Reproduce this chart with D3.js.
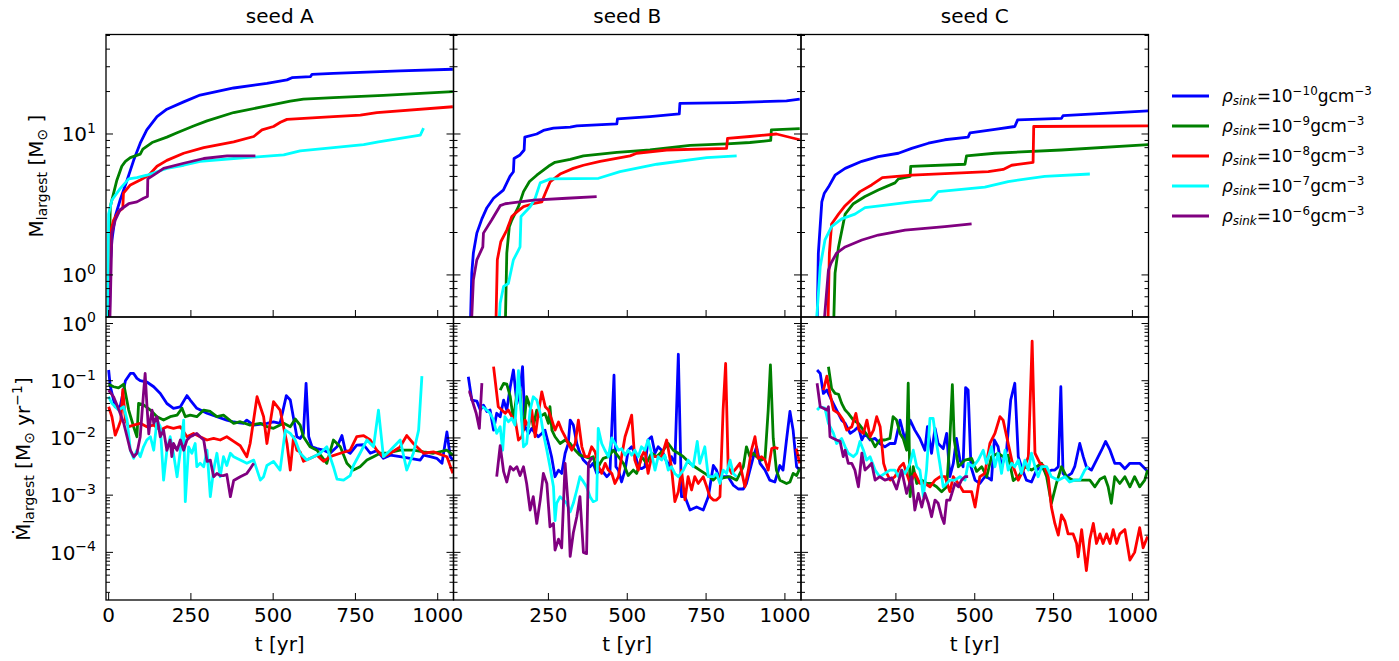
<!DOCTYPE html>
<html><head><meta charset="utf-8">
<script src="https://cdn.jsdelivr.net/npm/d3@7"></script>
<style>body{margin:0;background:#fff}svg{display:block}text{font-family:"DejaVu Sans",sans-serif;fill:#000}</style>
</head><body><svg id="c" width="1399" height="661"></svg>
<script>
// ---------- DATA ----------
const seeds = ["seed A","seed B","seed C"];
const densityExp = ["−10","−9","−8","−7","−6"];
const colors = ["#0000ff","#008000","#ff0000","#00ffff","#800080"];
const xTicksFirst = [0,250,500,750,1000];
const xTicksOther = [250,500,750,1000];

// Largest sink mass [Msun] vs t [yr]
const mA10=[[2,0.4],[5,1.2],[10,1.77],[20,2.6],[35,3.4],[56,4.7],[76,6.5],[96,8.6],[116,10.7],[147,13.3],[177,15.0],[228,16.9],[278,18.9],[380,21.2],[481,22.9],[542,24.2],[557,25.1],[613,25.5],[618,26.5],[683,26.9],[886,28],[1046,28.8]];
const mA9=[[0,0.4],[2,1.3],[5,3.05],[25,4.7],[40,5.9],[51,6.4],[66,6.8],[96,7.2],[104,7.8],[132,8.7],[177,9.5],[208,10.2],[258,11.4],[299,12.4],[380,14.2],[481,15.8],[552,17.1],[592,17.7],[683,18.1],[835,18.8],[1046,20]];
const mA8=[[0,0.4],[2,1.0],[5,1.98],[15,2.45],[30,2.81],[43,2.97],[45,3.8],[66,4.35],[96,4.72],[122,5.1],[147,5.9],[177,6.5],[228,7.3],[289,8.0],[380,8.8],[441,9.6],[466,10.7],[501,11.3],[522,12.1],[542,12.7],[683,13.3],[765,13.6],[815,14.2],[1046,15.6]];
const mA7=[[-3,0.4],[-1,1.5],[0,2.7],[10,3.4],[35,4.1],[61,4.8],[86,4.9],[116,5.1],[147,5.4],[177,5.7],[228,6.0],[278,6.4],[380,6.7],[532,7.1],[582,7.6],[683,8.0],[775,8.4],[820,8.8],[886,9.3],[947,9.8],[957,11.0]];
const mA6=[[3,0.4],[10,1.98],[20,2.45],[35,2.9],[61,3.2],[86,3.3],[106,3.5],[118,3.6],[119,4.8],[147,5.3],[167,5.7],[228,6.2],[289,6.7],[360,7.0],[446,7.0]];

const mB10=[[2,0.4],[7,1.03],[12,1.43],[23,1.98],[39,2.5],[55,3.0],[76,3.5],[107,4.0],[128,5.0],[139,5.4],[141,6.7],[160,7.1],[173,7.7],[175,9.5],[213,10],[234,10.6],[266,11],[319,11.2],[340,11.4],[467,11.8],[469,12.8],[572,13.3],[665,13.9],[667,16.5],[836,16.7],[1005,17.2],[1047,17.7]];
const mB9=[[113,0.4],[118,1.43],[126,2.2],[134,2.45],[155,3.05],[171,3.9],[190,4.6],[213,5.1],[250,5.9],[271,6.3],[319,6.6],[361,7.0],[467,7.4],[572,7.7],[699,8.3],[815,8.5],[889,8.7],[955,9.0],[957,10.7],[1047,10.9]];
const mB8=[[83,0.4],[88,1.28],[99,1.72],[118,2.08],[134,2.6],[150,2.8],[171,3.05],[201,3.2],[229,3.3],[240,3.8],[256,4.6],[287,5.2],[329,5.7],[361,6.0],[414,6.4],[509,7.0],[530,7.3],[625,7.7],[815,7.9],[818,9.3],[889,9.6],[973,10],[1047,9.1]];
const mB7=[[92,0.4],[97,0.63],[108,0.83],[123,0.87],[139,1.28],[155,1.5],[160,1.58],[163,2.6],[192,3.05],[208,3.5],[224,4.5],[256,4.8],[409,4.85],[477,5.4],[594,6.1],[752,6.8],[847,7.0]];
const mB6=[[5,0.4],[12,0.92],[23,1.28],[42,1.58],[44,1.98],[70,2.45],[97,3.1],[113,3.2],[203,3.4],[308,3.5],[403,3.6]];

const mC10=[[0,0.4],[4,1.43],[15,3.3],[23,3.8],[36,4.2],[57,5.1],[89,5.7],[142,6.4],[194,6.9],[258,7.3],[300,7.9],[353,8.6],[405,9.1],[479,9.5],[485,10.2],[564,10.8],[627,11.3],[636,12.6],[775,12.9],[780,13.5],[1050,14.6]];
const mC9=[[52,0.4],[57,1.03],[68,1.58],[89,2.7],[115,3.2],[152,3.6],[194,4.0],[247,4.5],[258,4.8],[295,5.0],[297,5.9],[469,6.1],[474,7.0],[564,7.3],[775,7.7],[1050,8.4]];
const mC8=[[34,0.4],[39,1.43],[46,2.3],[68,2.7],[89,3.1],[136,3.9],[173,4.35],[207,4.9],[300,5.1],[458,5.3],[543,5.4],[590,5.6],[617,6.0],[685,6.3],[687,11.3],[1050,11.4]];
const mC7=[[-4,0.4],[10,1.15],[25,1.77],[46,2.2],[78,2.5],[120,2.7],[152,3.0],[205,3.1],[300,3.3],[361,3.4],[384,3.9],[532,4.2],[606,4.6],[722,5.0],[865,5.2]];
const mC6=[[20,0.4],[36,1.08],[44,1.21],[62,1.43],[89,1.58],[142,1.77],[194,1.92],[279,2.08],[405,2.2],[490,2.3]];

// Accretion rate of largest sink [Msun/yr] vs t [yr]
const dA10=[[0,0.154],[5,0.08],[20,0.035],[35,0.035],[51,0.1],[66,0.134],[76,0.134],[86,0.11],[96,0.1],[116,0.095],[137,0.0785],[157,0.06],[177,0.04],[197,0.033],[218,0.035],[238,0.055],[248,0.046],[268,0.033],[299,0.027],[329,0.0235],[359,0.0205],[380,0.019],[410,0.018],[420,0.0205],[440,0.0168],[481,0.018],[501,0.019],[521,0.018],[540,0.055],[552,0.046],[572,0.0105],[582,0.0098],[592,0.012],[600,0.09],[608,0.0105],[618,0.007],[633,0.0065],[653,0.0061],[673,0.0054],[694,0.007],[709,0.011],[719,0.0061],[734,0.0054],[754,0.0075],[775,0.0076],[795,0.0054],[815,0.006],[835,0.0044],[856,0.005],[886,0.0047],[916,0.0044],[947,0.0041],[957,0.005],[977,0.0047],[997,0.0044],[1013,0.0036],[1028,0.0127],[1038,0.0047],[1046,0.0041]];
const dA9=[[0,0.087],[15,0.0785],[30,0.075],[46,0.087],[61,0.0307],[76,0.0157],[86,0.0105],[91,0.0402],[106,0.038],[127,0.0307],[147,0.0235],[167,0.0205],[187,0.0235],[208,0.025],[223,0.0331],[233,0.0235],[248,0.025],[268,0.0235],[289,0.0307],[309,0.029],[329,0.0235],[349,0.025],[380,0.018],[400,0.0192],[430,0.0168],[461,0.018],[481,0.0157],[501,0.0147],[532,0.018],[552,0.0157],[567,0.0215],[582,0.0168],[592,0.0105],[612,0.007],[633,0.0061],[663,0.0036],[683,0.0092],[704,0.007],[724,0.0036],[744,0.00274],[764,0.00314],[785,0.0041],[805,0.0047],[825,0.0054],[845,0.0054],[886,0.0061],[926,0.0061],[957,0.0057],[987,0.0054],[1028,0.0061],[1046,0.005]];
const dA8=[[0,0.0351],[10,0.0235],[20,0.0112],[30,0.0157],[37,0.0205],[43,0.07],[51,0.0205],[61,0.0157],[76,0.0168],[96,0.018],[116,0.0157],[137,0.0168],[157,0.0137],[177,0.0157],[197,0.0147],[218,0.0157],[238,0.0105],[258,0.012],[278,0.0105],[299,0.0092],[319,0.0098],[339,0.0092],[359,0.0105],[380,0.0087],[400,0.0073],[420,0.0047],[430,0.008],[451,0.0525],[471,0.0235],[481,0.008],[501,0.043],[521,0.0307],[542,0.008],[552,0.00274],[562,0.0105],[572,0.0061],[582,0.0057],[592,0.0039],[613,0.0044],[633,0.005],[653,0.0039],[673,0.0047],[704,0.0054],[734,0.0061],[754,0.0105],[775,0.011],[795,0.0092],[815,0.0061],[835,0.0047],[856,0.0054],[886,0.007],[906,0.011],[926,0.008],[957,0.0054],[987,0.0057],[1028,0.0047],[1046,0.0024]];
const dA7=[[0,0.0525],[10,0.0402],[20,0.0351],[30,0.0307],[46,0.0351],[56,0.0205],[66,0.0061],[76,0.0044],[86,0.0061],[96,0.0047],[106,0.007],[116,0.0092],[127,0.0105],[137,0.0061],[147,0.0205],[157,0.0157],[167,0.00183],[177,0.0061],[187,0.0105],[197,0.0054],[208,0.0021],[218,0.0061],[228,0.0205],[233,0.00077],[243,0.007],[253,0.0054],[263,0.008],[268,0.00314],[278,0.0036],[289,0.00314],[299,0.0061],[309,0.00094],[319,0.00274],[329,0.0054],[339,0.0021],[349,0.0047],[359,0.0033],[370,0.0054],[380,0.0047],[400,0.0041],[420,0.0036],[441,0.0041],[461,0.00183],[471,0.0021],[481,0.0033],[501,0.0039],[521,0.00274],[537,0.0137],[552,0.012],[567,0.0092],[582,0.0054],[602,0.0041],[623,0.0047],[643,0.0054],[663,0.007],[683,0.00314],[694,0.0019],[714,0.00183],[734,0.0022],[744,0.0033],[764,0.0054],[785,0.0092],[805,0.007],[820,0.0307],[835,0.0047],[856,0.0061],[886,0.0092],[906,0.00274],[926,0.0054],[942,0.0137],[952,0.12]];
const dA6=[[0,0.0687],[15,0.0525],[25,0.038],[35,0.0269],[46,0.018],[56,0.0105],[66,0.0061],[76,0.0047],[86,0.0054],[96,0.0105],[106,0.06],[111,0.134],[116,0.0402],[122,0.0118],[127,0.0205],[132,0.0307],[137,0.018],[147,0.0235],[157,0.0105],[167,0.0137],[177,0.0061],[187,0.0092],[192,0.0047],[197,0.008],[208,0.0061],[218,0.0092],[228,0.0061],[238,0.0092],[248,0.0105],[258,0.0112],[268,0.012],[278,0.0105],[289,0.0092],[299,0.0039],[309,0.0041],[319,0.0021],[329,0.0024],[339,0.0022],[349,0.0022],[359,0.0023],[370,0.00094],[380,0.0018],[400,0.0021],[420,0.0024],[430,0.0029],[441,0.0036]];

const dB10=[[-4,0.117],[7,0.0459],[23,0.044],[34,0.0307],[44,0.0375],[55,0.029],[65,0.0307],[76,0.0137],[86,0.027],[97,0.0235],[108,0.0459],[118,0.0307],[129,0.0785],[139,0.154],[150,0.04],[160,0.0687],[168,0.176],[176,0.0157],[187,0.012],[197,0.0147],[208,0.012],[218,0.0105],[229,0.012],[239,0.0137],[250,0.008],[260,0.0047],[271,0.0021],[282,0.00274],[292,0.0024],[303,0.0054],[313,0.008],[319,0.0205],[329,0.0168],[340,0.008],[350,0.0054],[361,0.0041],[371,0.0036],[382,0.00314],[392,0.0036],[403,0.0024],[419,0.00274],[435,0.0021],[445,0.0024],[458,0.125],[464,0.00314],[472,0.00274],[482,0.0017],[493,0.00274],[503,0.0061],[514,0.007],[524,0.0054],[535,0.00314],[545,0.0029],[556,0.00314],[566,0.0092],[577,0.0105],[588,0.0054],[598,0.007],[609,0.0061],[619,0.0047],[630,0.00314],[640,0.0047],[651,0.0036],[662,0.29],[672,0.00094],[683,0.00094],[699,0.00055],[720,0.00062],[741,0.00055],[757,0.00094],[773,0.0033],[783,0.00274],[794,0.0018],[804,0.0021],[820,0.0021],[836,0.0015],[852,0.00128],[868,0.00128],[878,0.0016],[900,0.0047],[910,0.007],[921,0.0036],[937,0.00274],[952,0.00183],[968,0.0017],[984,0.0033],[994,0.00274],[1005,0.0092],[1016,0.029],[1026,0.0137],[1037,0.00314],[1047,0.00274]];
const dB9=[[97,0.0687],[108,0.09],[118,0.087],[129,0.0525],[139,0.0205],[150,0.06],[160,0.0687],[166,0.0205],[171,0.0137],[181,0.0525],[192,0.0351],[202,0.0157],[213,0.0307],[224,0.0235],[239,0.0269],[250,0.018],[255,0.0351],[261,0.0137],[271,0.0105],[287,0.008],[303,0.0092],[319,0.008],[335,0.0061],[350,0.005],[366,0.0047],[382,0.0044],[392,0.0047],[403,0.00274],[414,0.0036],[424,0.0044],[440,0.0047],[456,0.0061],[472,0.0047],[488,0.0036],[503,0.0022],[519,0.00274],[530,0.0024],[546,0.0047],[561,0.0036],[577,0.0054],[593,0.0047],[614,0.0061],[630,0.008],[646,0.0061],[662,0.0054],[678,0.0047],[699,0.0036],[714,0.00314],[730,0.00274],[746,0.0024],[762,0.0021],[773,0.00183],[783,0.0021],[804,0.002],[826,0.0021],[847,0.00183],[868,0.00314],[878,0.007],[889,0.0047],[900,0.0054],[910,0.0047],[926,0.0041],[937,0.0044],[947,0.0307],[954,0.19],[963,0.0098],[973,0.00274],[984,0.00183],[1005,0.0016],[1016,0.0017],[1026,0.0024],[1037,0.0022],[1047,0.0029]];
const dB8=[[76,0.176],[91,0.0351],[102,0.0307],[113,0.0269],[123,0.0307],[134,0.0235],[145,0.0205],[155,0.0092],[166,0.0105],[176,0.0205],[187,0.0157],[197,0.0307],[208,0.0105],[218,0.0269],[229,0.064],[240,0.0351],[250,0.0307],[261,0.0205],[271,0.0137],[282,0.019],[292,0.0137],[303,0.0105],[313,0.008],[324,0.0061],[335,0.008],[345,0.0205],[356,0.007],[366,0.0047],[377,0.0047],[387,0.007],[398,0.0057],[409,0.00314],[419,0.0024],[430,0.0036],[440,0.00274],[451,0.0024],[461,0.0016],[472,0.0021],[482,0.0047],[493,0.0105],[503,0.0157],[514,0.025],[524,0.0041],[535,0.00274],[545,0.0047],[556,0.0061],[566,0.0024],[577,0.0047],[593,0.0047],[609,0.0047],[625,0.0092],[640,0.00314],[651,0.00077],[662,0.00115],[672,0.00274],[683,0.00083],[693,0.0021],[704,0.00123],[714,0.0021],[725,0.0016],[741,0.0021],[752,0.0014],[762,0.00094],[773,0.00082],[783,0.00082],[794,0.00094],[804,0.0307],[812,0.2],[820,0.00314],[831,0.0024],[841,0.00274],[857,0.0036],[873,0.0014],[884,0.00274],[894,0.0061],[905,0.0105],[915,0.0044],[926,0.0047],[937,0.0041],[947,0.00274],[958,0.0065],[968,0.0068],[979,0.0065],null,[1036,0.0065],[1047,0.0036]];
const dB7=[[39,0.0358],[55,0.0307],[65,0.0269],[76,0.0205],[86,0.012],[97,0.0157],[105,0.0061],[112,0.0235],[123,0.0192],[134,0.022],[144,0.0168],[155,0.15],[163,0.0307],[171,0.007],[181,0.008],[192,0.0307],[202,0.0525],[213,0.0459],[224,0.0269],[234,0.012],[245,0.0061],[255,0.00314],[266,0.0014],[271,0.00036],[276,0.00072],[287,0.00094],[298,0.00082],[308,0.00072],[319,0.00051],[329,0.00072],[340,0.00123],[350,0.0021],[361,0.00172],[371,0.0014],[382,0.00094],[392,0.00077],[403,0.00082],[408,0.0147],[419,0.008],[429,0.0061],[440,0.0047],[451,0.01],[461,0.008],[472,0.0061],[482,0.0065],[493,0.005],[503,0.0061],[514,0.005],[524,0.0061],[535,0.0047],[545,0.007],[556,0.0061],[566,0.0092],[577,0.0054],[588,0.00274],[598,0.0047],[609,0.0041],[619,0.005],[630,0.00274],[640,0.00314],[651,0.0024],[662,0.0021],[678,0.00274],[693,0.0041],[709,0.00314],[722,0.0087],[730,0.0036],[746,0.007],[757,0.0021],[773,0.0021],[783,0.0024],[794,0.0016],[804,0.00274],[815,0.0024],[826,0.0041],[836,0.0024],[847,0.0021]];
const dB6=[[-4,0.064],[0,0.064],[21,0.027],[31,0.0147],[39,0.091],null,[86,0.0021],[97,0.0073],[108,0.00257],[118,0.0017],[129,0.00314],[139,0.00274],[150,0.00314],[160,0.0022],[171,0.00314],[181,0.0016],[192,0.00055],[202,0.00094],[213,0.00032],[224,0.00082],[234,0.0024],[245,0.0016],[255,0.00028],[266,0.00032],[271,0.00011],[282,0.00017],[292,0.00012],[303,0.0036],[313,0.00062],[319,0.000085],[329,0.00022],[340,0.00042],[350,0.00094],[361,0.0001],[371,0.000095],[377,0.0036],[387,0.0044],[392,0.0044]];

const dC10=[[0,0.154],[10,0.134],[20,0.06],[31,0.0687],[46,0.0459],[62,0.0307],[78,0.0205],[89,0.018],[105,0.012],[120,0.0137],[131,0.0157],[142,0.0092],[152,0.012],[168,0.0092],[184,0.0098],[199,0.008],[215,0.007],[231,0.008],[247,0.008],[263,0.0205],[279,0.0092],[295,0.0205],[310,0.0137],[326,0.0098],[342,0.0061],[350,0.0157],[363,0.0054],[374,0.0147],[384,0.008],[400,0.0065],[411,0.012],[421,0.0021],[432,0.0036],[442,0.0098],[453,0.0041],[463,0.00314],[471,0.0759],[479,0.069],[488,0.00314],[501,0.00183],[516,0.0016],[532,0.0021],[543,0.002],[553,0.00183],[562,0.0092],[574,0.007],[585,0.00314],[601,0.0061],[614,0.046],[627,0.0903],[638,0.0047],[648,0.00314],[664,0.00183],[680,0.0017],[696,0.00274],[712,0.00314],[728,0.0024],[743,0.00274],[754,0.00274],[765,0.00314],[773,0.0785],[780,0.0024],[791,0.0021],[807,0.0024],[817,0.00314],[833,0.008],[844,0.0047],[854,0.00314],[870,0.00274],[886,0.0041],[902,0.0061],[915,0.0087],[929,0.0061],[944,0.0036],[960,0.0036],[976,0.0029],[992,0.0036],[1007,0.0036],[1023,0.0036],[1034,0.00314],[1048,0.0026]];
const dC9=[[36,0.176],[46,0.073],[57,0.06],[68,0.058],[78,0.0402],[89,0.0307],[99,0.0269],[115,0.0205],[131,0.018],[147,0.0137],[163,0.0105],[173,0.0092],[184,0.007],[199,0.0092],[215,0.0092],[231,0.0098],[241,0.0235],[252,0.0205],[263,0.012],[273,0.0098],[284,0.0061],[289,0.0903],[295,0.00094],[305,0.00314],[316,0.0016],[332,0.00183],[348,0.0016],[363,0.0016],[379,0.0014],[395,0.00115],[411,0.0014],[421,0.0092],[429,0.0853],[435,0.0092],[448,0.00314],[469,0.0041],[490,0.0044],[506,0.0026],[522,0.00314],[538,0.0021],[553,0.0047],[574,0.0054],[590,0.0047],[606,0.005],[622,0.0018],[638,0.0021],[659,0.00314],[680,0.00274],[696,0.00314],[712,0.0036],[728,0.0021],[743,0.00072],[759,0.0016],[775,0.00314],[791,0.0021],[812,0.00183],[833,0.00183],[854,0.00183],[865,0.00183],[881,0.0014],[897,0.0019],[912,0.0021],[923,0.0014],[933,0.00072],[944,0.0021],[960,0.0016],[976,0.0021],[992,0.0014],[1007,0.0021],[1023,0.0014],[1039,0.00183],[1048,0.00274]];
const dC8=[[20,0.0687],[31,0.12],[41,0.06],[52,0.0307],[68,0.0269],[83,0.0205],[94,0.0137],[110,0.0157],[123,0.0269],[133,0.0137],[147,0.012],[158,0.0205],[168,0.0105],[179,0.0137],[189,0.0235],[200,0.0157],[211,0.0036],[221,0.0024],[232,0.00183],[247,0.0021],[263,0.00314],[274,0.0036],[284,0.0024],[295,0.0016],[310,0.0024],[326,0.0016],[342,0.0016],[358,0.0014],[374,0.00183],[390,0.0021],[406,0.0021],[421,0.00115],[432,0.0021],[448,0.0016],[464,0.00115],[479,0.00115],[490,0.00115],[501,0.00062],[516,0.0021],[532,0.0024],[548,0.008],[564,0.012],[580,0.0235],[590,0.0205],[606,0.008],[622,0.00314],[638,0.00183],[654,0.00274],[670,0.0047],[682,0.49],[691,0.0054],[707,0.0036],[722,0.00314],[733,0.0021],[743,0.00062],[754,0.00032],[765,0.0002],[775,0.00045],[786,0.00035],[796,0.00021],[812,0.00021],[823,0.000143],[828,0.0000838],[839,0.00025],[854,0.000048],[865,0.00017],[876,0.00032],[886,0.000143],[897,0.00021],[907,0.000143],[918,0.00021],[929,0.000143],[939,0.00025],[950,0.000143],[960,0.00021],[976,0.00025],[992,0.0000735],[1007,0.0001],[1023,0.00027],[1034,0.00012],[1048,0.00019]];
const dC7=[[0,0.0307],[10,0.0351],[25,0.0331],[36,0.018],[52,0.012],[62,0.008],[78,0.0098],[89,0.007],[99,0.0054],[115,0.0047],[126,0.0054],[136,0.0087],[147,0.0061],[157,0.0041],[168,0.0047],[184,0.00274],[199,0.0021],[215,0.0024],[231,0.00274],[247,0.00274],[258,0.0021],[268,0.00274],[279,0.0024],[295,0.0036],[305,0.0061],[316,0.00314],[326,0.00274],[337,0.00094],[347,0.00274],[358,0.0219],[368,0.0219],[379,0.008],[389,0.0036],[400,0.0014],[411,0.0016],[421,0.00183],[437,0.00183],[453,0.0021],[469,0.00183],[479,0.0036],[495,0.00314],[511,0.0041],[527,0.0061],[537,0.0036],[553,0.007],[564,0.00314],[574,0.0054],[585,0.0024],[596,0.0061],[606,0.00274],[617,0.0036],[627,0.00314],[638,0.0041],[648,0.0024],[659,0.0041],[670,0.00274],[680,0.0054],[691,0.00314],[701,0.0021],[712,0.00314],[728,0.00314],[743,0.0021],[765,0.00183],[786,0.0021],[801,0.0017],[817,0.00183],[833,0.00183],[849,0.00274],[860,0.00314]];
const dC6=[[0,0.0903],[10,0.0351],[20,0.0331],[31,0.0307],[36,0.0351],[41,0.0105],[52,0.0098],[62,0.0092],[73,0.0087],[83,0.0047],[89,0.0061],[99,0.0036],[110,0.0036],[120,0.00274],[131,0.0014],[142,0.0054],[152,0.00274],[163,0.00314],[173,0.0036],[184,0.00183],[199,0.0021],[215,0.00183],[237,0.002],[252,0.00128],[268,0.00274],[284,0.00107],[300,0.0021],[310,0.00055],[321,0.00107],[332,0.00062],[342,0.00107],[353,0.00072],[363,0.00042],[374,0.00082],[384,0.00072],[395,0.00042],[403,0.00032],[411,0.00082],[421,0.00082],[437,0.0016],[448,0.0014],[458,0.00183],[469,0.0021],[479,0.0021]];

const massSeries = [[mA10,mA9,mA8,mA7,mA6],[mB10,mB9,mB8,mB7,mB6],[mC10,mC9,mC8,mC7,mC6]];
const rateSeries = [[dA10,dA9,dA8,dA7,dA6],[dB10,dB9,dB8,dB7,dB6],[dC10,dC9,dC8,dC7,dC6]];

// ---------- LAYOUT ----------
const svg = d3.select("#c");
const FONT = "DejaVu Sans";
const colX = [[106,453.5],[453.5,801],[801,1148.5]];
const rowY = [[34.5,317],[317,600]];
const xDomains = [[-8,1048],[-51,1051],[-51,1051]];
const yDomains = [[0.503,50.8],[1.47e-5,1.30]];

function supText(sel, parts){
  let shift = 0;
  const base = +sel.attr("font-size");
  parts.forEach(p=>{
    const [t, kind] = p;
    const ts = sel.append("tspan").text(t);
    let target = 0;
    if (kind==="sup") target = -0.42; else if (kind==="sub"||kind==="itsub") target = 0.22;
    const dy = (target - shift)*base;
    if (dy !== 0) ts.attr("dy", dy.toFixed(2));
    shift = target;
    if (kind==="sup"||kind==="sub"||kind==="itsub") ts.attr("font-size", base*0.7);
    if (kind==="it"||kind==="itsub") ts.attr("font-style","italic");
  });
}

for (let r=0;r<2;r++){
  for (let c=0;c<3;c++){
    const [x0,x1]=colX[c], [y0,y1]=rowY[r];
    const x = d3.scaleLinear().domain(xDomains[c]).range([x0,x1]);
    const y = d3.scaleLog().domain(yDomains[r]).range([y1,y0]);
    const id = `clip${r}${c}`;
    svg.append("clipPath").attr("id",id).append("rect").attr("x",x0).attr("y",y0).attr("width",x1-x0).attr("height",y1-y0);
    const g = svg.append("g").attr("clip-path",`url(#${id})`);
    const series = (r===0?massSeries:rateSeries)[c];
    const line = d3.line().defined(d=>d!==null).x(d=>x(d[0])).y(d=>y(d[1]));
    series.forEach((s,i)=>{
      g.append("path").attr("d",line(s)).attr("fill","none").attr("stroke",colors[i])
        .attr("stroke-width",2.8).attr("stroke-linejoin","round").attr("stroke-linecap","butt");
    });
    const ax = svg.append("g");
    y.ticks().forEach(v=>{
      const lg = Math.log10(v);
      const major = Math.abs(lg-Math.round(lg))<1e-9;
      const len = major?7:4, yy=y(v);
      ax.append("line").attr("x1",x0).attr("x2",x0+len).attr("y1",yy).attr("y2",yy).attr("stroke","#000").attr("stroke-width",1);
      ax.append("line").attr("x1",x1).attr("x2",x1-len).attr("y1",yy).attr("y2",yy).attr("stroke","#000").attr("stroke-width",1);
      if (major && c===0){
        const e = Math.round(lg);
        const t = svg.append("text").attr("x",x0-10).attr("y",yy+7.3).attr("text-anchor","end")
          .attr("font-size",20).attr("font-family",FONT);
        supText(t,[["10","n"],[(e<0?"−":"")+Math.abs(e),"sup"]]);
      }
    });
    (c===0?xTicksFirst:xTicksOther).forEach(v=>{
      ax.append("line").attr("x1",x(v)).attr("x2",x(v)).attr("y1",y1).attr("y2",y1-7).attr("stroke","#000").attr("stroke-width",1);
      if (r===1){
        svg.append("text").attr("x",x(v)).attr("y",y1+21.5).attr("text-anchor","middle")
          .attr("font-size",20).attr("font-family",FONT).text(v);
      }
    });
    svg.append("rect").attr("x",x0).attr("y",y0).attr("width",x1-x0).attr("height",y1-y0)
      .attr("fill","none").attr("stroke","#000").attr("stroke-width",1.3);
    if (r===0){
      svg.append("text").attr("x",(x0+x1)/2).attr("y",23).attr("text-anchor","middle")
        .attr("font-size",20).attr("font-family",FONT).text(seeds[c]);
    } else {
      svg.append("text").attr("x",(x0+x1)/2).attr("y",651).attr("text-anchor","middle")
        .attr("font-size",20).attr("font-family",FONT).text("t [yr]");
    }
  }
}

// y-axis labels
const yl1 = svg.append("text").attr("transform","translate(43,176) rotate(-90)").attr("text-anchor","middle")
  .attr("font-size",20).attr("font-family",FONT);
supText(yl1,[["M","n"],["largest","sub"],[" [M","n"],["⊙","sub"],[" ]","n"]]);
const yl2 = svg.append("text").attr("transform","translate(30,459) rotate(-90)").attr("text-anchor","middle")
  .attr("font-size",20).attr("font-family",FONT);
supText(yl2,[["Ṁ","n"],["largest","sub"],[" [M","n"],["⊙","sub"],[" yr","n"],["−1","sup"],["]","n"]]);

// legend
densityExp.forEach((e,i)=>{
  const ly = 96 + i*30;
  svg.append("line").attr("x1",1172).attr("x2",1209).attr("y1",ly).attr("y2",ly).attr("stroke",colors[i]).attr("stroke-width",2.8);
  const t = svg.append("text").attr("x",1222).attr("y",ly+5.7).attr("font-size",17).attr("font-family",FONT);
  supText(t,[["ρ","it"],["sink","itsub"],["=10","n"],[e,"sup"],["gcm","n"],["−3","sup"]]);
});
</script></body></html>
